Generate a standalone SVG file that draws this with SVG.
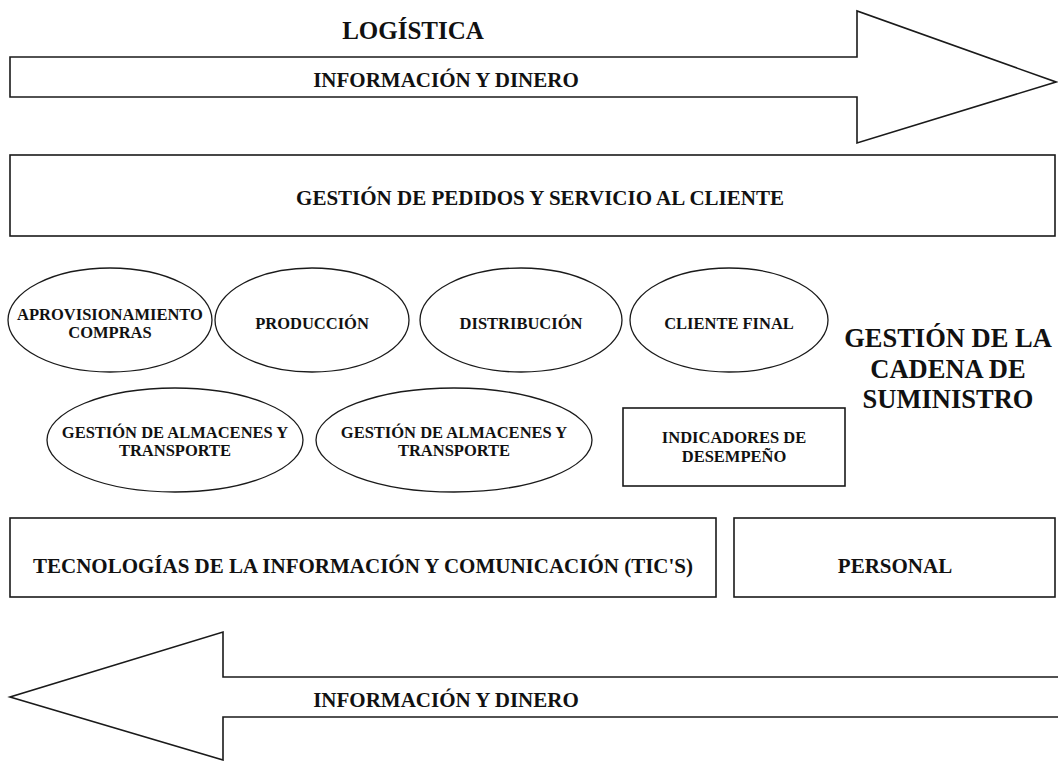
<svg xmlns="http://www.w3.org/2000/svg" width="1058" height="761" viewBox="0 0 1058 761">
<style>
.shape{fill:#fff;stroke:#1a1a1a;stroke-width:1.6}
.ell{fill:#fff;stroke:#1a1a1a;stroke-width:1.3}
text{font-family:"Liberation Serif","Times New Roman",serif;font-weight:bold;fill:#111;text-anchor:middle}
.t21{font-size:21px}
.t16{font-size:16.5px}
.t26{font-size:26.5px}
</style>
<rect width="1058" height="761" fill="#fff"/>
<g id="connectors">
<g id="arrow-top">
<path class="shape" d="M10,57 H857 V11 L1056,82 L857,143 V97 H10 Z"/>
<text class="t21" x="446" y="87">INFORMACIÓN Y DINERO</text>
</g>
<g id="arrow-bottom">
<path class="shape" d="M1060,677 H223 V632 L10,697 L223,760 V717 H1060"/>
<text class="t21" x="446" y="707">INFORMACIÓN Y DINERO</text>
</g>
</g>
<g id="title-logistica"><text x="413" y="39" style="font-size:25px">LOGÍSTICA</text></g>
<g id="node-pedidos">
<rect class="shape" x="10" y="155" width="1045" height="81"/>
<text class="t21" x="540" y="205">GESTIÓN DE PEDIDOS Y SERVICIO AL CLIENTE</text>
</g>
<g id="node-aprovisionamiento">
<ellipse class="ell" cx="110" cy="320" rx="102" ry="52"/>
<text class="t16" x="110" y="320">APROVISIONAMIENTO</text>
<text class="t16" x="110" y="338">COMPRAS</text>
</g>
<g id="node-produccion">
<ellipse class="ell" cx="312" cy="320" rx="97" ry="52"/>
<text class="t16" x="312" y="329">PRODUCCIÓN</text>
</g>
<g id="node-distribucion">
<ellipse class="ell" cx="521" cy="320" rx="101" ry="52"/>
<text class="t16" x="521" y="329">DISTRIBUCIÓN</text>
</g>
<g id="node-cliente">
<ellipse class="ell" cx="729" cy="320" rx="99" ry="52"/>
<text class="t16" x="729" y="329">CLIENTE FINAL</text>
</g>
<g id="node-almacenes-1">
<ellipse class="ell" cx="175" cy="440" rx="128" ry="52"/>
<text class="t16" x="175" y="438">GESTIÓN DE ALMACENES Y</text>
<text class="t16" x="175" y="456">TRANSPORTE</text>
</g>
<g id="node-almacenes-2">
<ellipse class="ell" cx="454" cy="440" rx="138" ry="52"/>
<text class="t16" x="454" y="438">GESTIÓN DE ALMACENES Y</text>
<text class="t16" x="454" y="456">TRANSPORTE</text>
</g>
<g id="node-indicadores">
<rect class="shape" x="623" y="408" width="222" height="78"/>
<text class="t16" x="734" y="443">INDICADORES DE</text>
<text class="t16" x="734" y="462">DESEMPEÑO</text>
</g>
<g id="title-gcs">
<text class="t26" x="948" y="347">GESTIÓN DE LA</text>
<text class="t26" x="948" y="378">CADENA DE</text>
<text class="t26" x="948" y="408">SUMINISTRO</text>
</g>
<g id="node-tics">
<rect class="shape" x="10" y="518" width="706" height="79"/>
<text class="t21" x="363" y="573">TECNOLOGÍAS DE LA INFORMACIÓN Y COMUNICACIÓN (TIC'S)</text>
</g>
<g id="node-personal">
<rect class="shape" x="734" y="518" width="321" height="79"/>
<text class="t21" x="895" y="573">PERSONAL</text>
</g>
</svg>
